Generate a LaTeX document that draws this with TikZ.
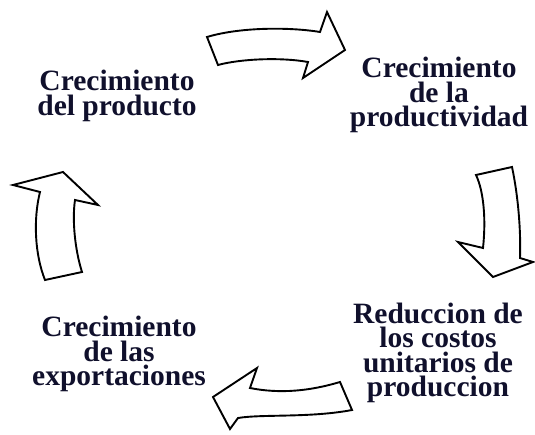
\documentclass[tikz,border=0pt]{standalone}
\usepackage{fontspec}
\setmainfont{Liberation Serif}
\definecolor{textnavy}{HTML}{10102C}

\begin{document}
\begin{tikzpicture}[x=1pt,y=-1pt,
		blockarrow/.style={draw=black,fill=white,line width=1.9pt,line join=miter},
		cyclelabel/.style={align=center,text=textnavy,inner sep=0pt,
			font=\bfseries\fontsize{29.5}{24.5}\selectfont}]
			\useasboundingbox (0,0) rectangle (535,435);
			% the four stages
			\node [cyclelabel] (producto) at (117,96) {Crecimiento\\del producto};
			\node [cyclelabel] (productividad) at (439,95) {Crecimiento\\de la\\productividad};
			\node [cyclelabel] (costos) at (438,353) {Reduccion de\\los costos\\unitarios de\\produccion};
			\node [cyclelabel] (exportaciones) at (119,354) {Crecimiento\\de las\\exportaciones};
			% block arrows between them
			\draw [blockarrow] (207,37) .. controls (240,27) and (290,27) .. (320,32)
				-- (327,12) -- (345,50) -- (303,78) -- (308,62)
				.. controls (280,57) and (240,59) .. (218,65) -- cycle;
			\draw [blockarrow] (476,175) -- (512,167) .. controls (518,195) and (521,230) .. (520,258)
				-- (533,262) -- (493,277) -- (458,242) -- (483,248)
				.. controls (486,220) and (484,192) .. (476,175) -- cycle;
			\draw [blockarrow] (340,382) -- (352,410) .. controls (310,418) and (262,414) .. (238,418)
				-- (230,429) -- (213,397) -- (257,368) -- (250,388)
				.. controls (280,394) and (310,391) .. (340,382) -- cycle;
			\draw [blockarrow] (45,280) -- (82,272) .. controls (75,250) and (72,220) .. (75,200)
				-- (98,205) -- (63,172) -- (13,185) -- (40,192)
				.. controls (33,220) and (35,255) .. (45,280) -- cycle;
			\end{tikzpicture}
\end{document}
